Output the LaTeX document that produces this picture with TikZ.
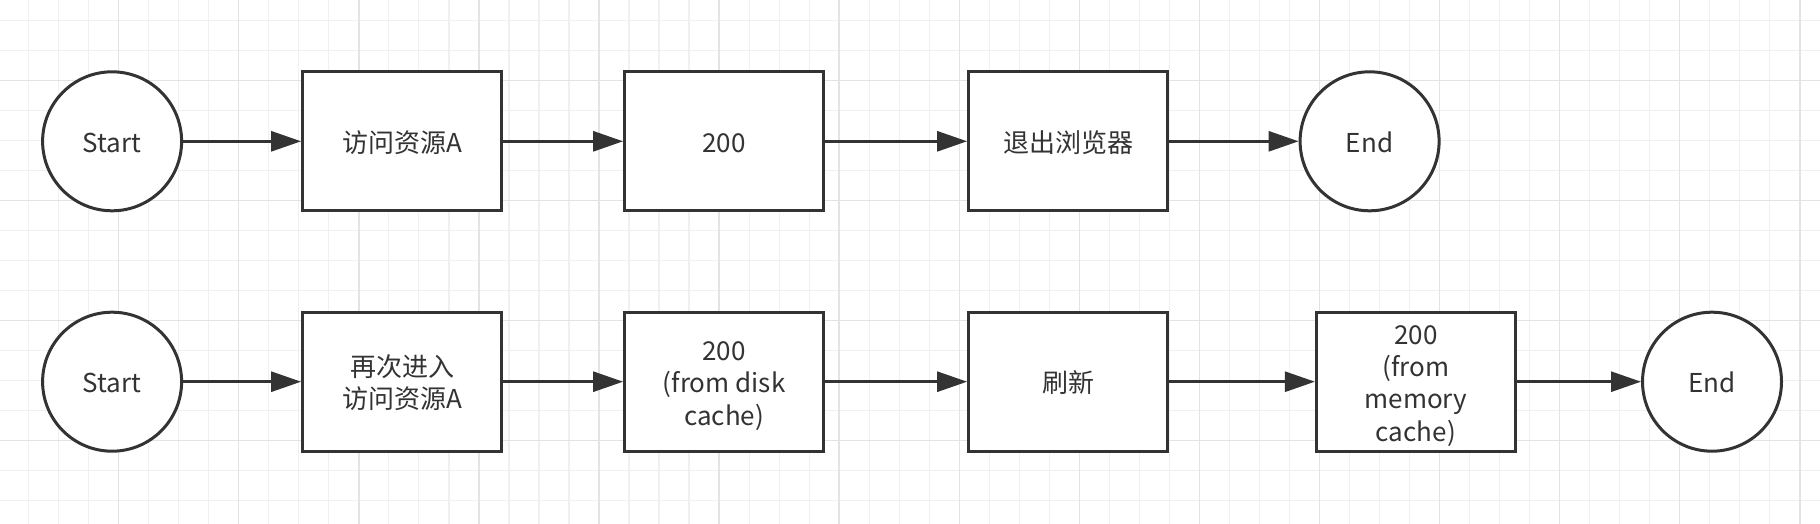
\documentclass[tikz,border=0pt]{standalone}
\usepackage{fontspec}
\setmainfont{Noto Sans CJK SC}
\usetikzlibrary{shapes.geometric,arrows.meta}
\definecolor{ink}{HTML}{333333}
\definecolor{gridminor}{HTML}{F0F0F0}
\definecolor{gridmajor}{HTML}{E3E3E3}
\newcommand\vtxt[1]{\raisebox{-2.3pt}[\height][\depth]{\begin{tabular}{@{}c@{}}#1\end{tabular}}}
\tikzset{
  lbl/.style={text=ink, font=\fontsize{13pt}{16.2pt}\selectfont},
  term/.style={circle, draw=ink, line width=1.5pt, fill=white, minimum size=69.5pt, inner sep=0pt, lbl},
  stepbox/.style={rectangle, draw=ink, line width=1.5pt, fill=white, minimum width=99.5pt, minimum height=69.5pt, inner sep=0pt, lbl},
  flow/.style={draw=ink, line width=1.4pt, -{Triangle[length=15pt,width=10pt]}},
}
\begin{document}
\begin{tikzpicture}[x=0.5pt,y=-0.5pt]
\useasboundingbox (0,0) rectangle (1820,524);
\fill[white] (0,0) rectangle (1820,524);
% grid
\foreach \k in {0,...,61} \draw[gridminor, line width=0.6pt] ({-1.4+30.02*\k},0) -- ++(0,524);
\foreach \j in {0,...,17} \draw[gridminor, line width=0.6pt] (0,{20.7+30*\j}) -- ++(1820,0);
\foreach \k in {0,...,15} \draw[gridmajor, line width=0.7pt] ({-1.4+120.08*\k},0) -- ++(0,524);
\foreach \j in {0,...,4} \draw[gridmajor, line width=0.7pt] (0,{80.7+120*\j}) -- ++(1820,0);
% row 1
\node[term]    (s1) at (112.1,141.3)  {\vtxt{Start}};
\node[stepbox] (a1) at (402.1,141.3)  {\vtxt{访问资源A}};
\node[stepbox] (b1) at (724.1,141.3)  {\vtxt{200}};
\node[stepbox] (c1) at (1068.1,141.3) {\vtxt{退出浏览器}};
\node[term]    (e1) at (1369.6,141.3) {\vtxt{End}};
\draw[flow] (s1) -- (a1);
\draw[flow] (a1) -- (b1);
\draw[flow] (b1) -- (c1);
\draw[flow] (c1) -- (e1);
% row 2
\node[term]    (s2) at (112.1,381.7)  {\vtxt{Start}};
\node[stepbox] (a2) at (402.1,381.7)  {\vtxt{再次进入\\访问资源A}};
\node[stepbox] (b2) at (724.1,381.7)  {\vtxt{200\\(from disk\\cache)}};
\node[stepbox] (c2) at (1068.1,381.7) {\vtxt{刷新}};
\node[stepbox] (d2) at (1415.9,381.7) {\vtxt{200\\(from\\memory\\cache)}};
\node[term]    (e2) at (1712,381.7)   {\vtxt{End}};
\draw[flow] (s2) -- (a2);
\draw[flow] (a2) -- (b2);
\draw[flow] (b2) -- (c2);
\draw[flow] (c2) -- (d2);
\draw[flow] (d2) -- (e2);
\end{tikzpicture}
\end{document}
